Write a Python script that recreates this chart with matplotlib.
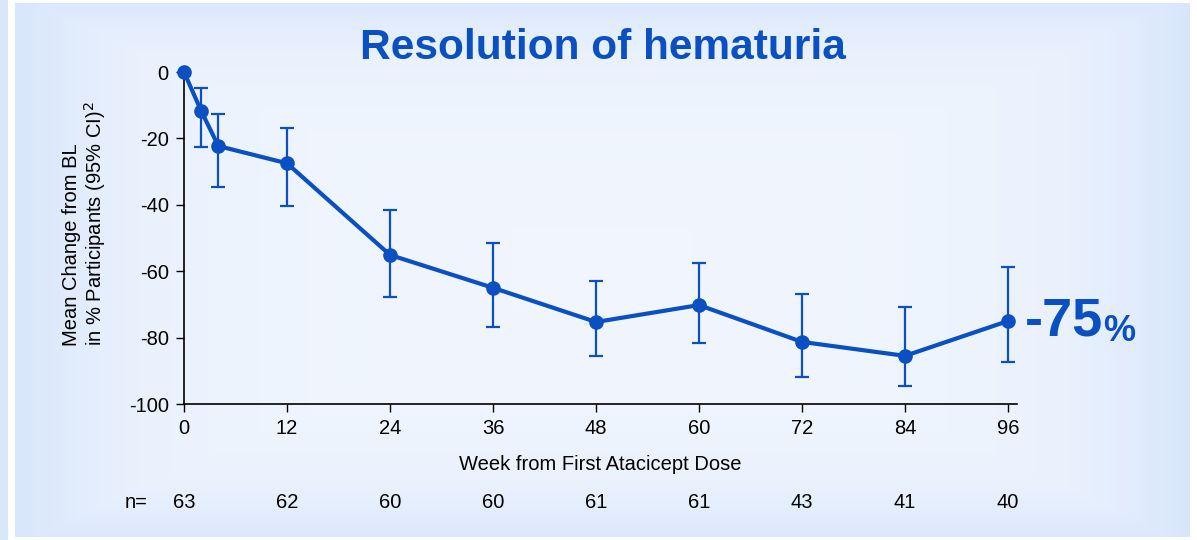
import numpy as np
import matplotlib
matplotlib.use("Agg")
from matplotlib import pyplot as plt
from matplotlib.colors import LinearSegmentedColormap

plt.rcParams['font.family'] = ['Liberation Sans', 'DejaVu Sans']
plt.rcParams['axes.unicode_minus'] = False

weeks = [0, 2, 4, 12, 24, 36, 48, 60, 72, 84, 96]
mean_change = [0, -11.7, -22.3, -27.5, -55.1, -65.0, -75.3, -70.2, -81.3, -85.5, -75.0]
ci_upper = [0, -4.9, -12.7, -17.0, -41.7, -51.5, -63.0, -57.5, -66.9, -70.9, -58.8]
ci_lower = [0, -22.7, -34.5, -40.3, -67.8, -76.8, -85.5, -81.6, -91.9, -94.6, -87.3]
tick_weeks = [0, 12, 24, 36, 48, 60, 72, 84, 96]
n_values = [63, 62, 60, 60, 61, 61, 43, 41, 40]

blue = '#0a50c2'
W, H = 1197, 540
fs = 14.5

fig = plt.figure(figsize=(W / 100, H / 100), dpi=100)
fig.patch.set_facecolor('white')

# left thin strip
strip = fig.add_axes([0, 0, 8 / W, 1])
strip.set_facecolor('#d9e7fb')
strip.set_xticks([])
strip.set_yticks([])
for s in strip.spines.values():
    s.set_visible(False)

# gradient panel background
bg = fig.add_axes([15 / W, 3 / H, (1190 - 15) / W, (537 - 3) / H])
gx = np.linspace(-1, 1, 400)
gy = np.linspace(-1, 1, 200)
X, Y = np.meshgrid(gx, gy)
r = np.clip(np.maximum(np.abs(X) ** 3, np.abs(Y) ** 3 * 0.9), 0, 1)
cmap = LinearSegmentedColormap.from_list('bg', ['#f1f6fe', '#e9f1fd', '#d8e6fb'])
bg.imshow(r, cmap=cmap, aspect='auto', extent=[0, 1, 0, 1], vmin=0, vmax=1)
bg.set_axis_off()

ax = fig.add_axes([184 / W, 1 - 404 / H, 832.6 / W, 332 / H])
ax.patch.set_alpha(0)

yerr = [np.array(mean_change) - np.array(ci_lower), np.array(ci_upper) - np.array(mean_change)]
ax.errorbar(weeks[1:], mean_change[1:], yerr=[yerr[0][1:], yerr[1][1:]], fmt='none',
            ecolor=blue, elinewidth=1.6, capsize=5, capthick=1.6, zorder=2, clip_on=False)
ax.plot(weeks, mean_change, color=blue, lw=3, marker='o', markersize=9.5, zorder=3, clip_on=False)

ax.set_xlim(0, 97)
ax.set_ylim(-100, 0)
ax.set_xticks(tick_weeks)
ax.set_yticks([0, -20, -40, -60, -80, -100])
ax.tick_params(labelsize=fs, length=6, width=1, colors='black', pad=5)
for side in ['top', 'right']:
    ax.spines[side].set_visible(False)
for side in ['left', 'bottom']:
    ax.spines[side].set_linewidth(1.2)

ax.set_xlabel('Week from First Atacicept Dose', fontsize=fs, labelpad=12)

# y label, lines aligned at the bottom like the original
fig.text(85 / W, 1 - 346 / H, 'Mean Change from BL\nin % Participants (95% CI)$^2$',
         rotation=90, ha='center', va='bottom', multialignment='left',
         fontsize=fs, linespacing=1.1)

# n row
n_y = 1 - 502 / H
for wk, n in zip(tick_weeks, n_values):
    xf = ax.transData.transform((wk, 0))[0] / W
    fig.text(xf, n_y, str(n), ha='center', va='center', fontsize=fs)
fig.text(125 / W, n_y, 'n=', ha='left', va='center', fontsize=fs)

fig.text(603 / W, 1 - 48 / H, 'Resolution of hematuria', ha='center', va='center',
         fontsize=30.5, fontweight='bold', color=blue)

t = fig.text(1025 / W, 1 - 322 / H, '-75', ha='left', va='center', fontsize=39,
             fontweight='bold', color=blue)
fig.canvas.draw()
bb = t.get_window_extent()
fig.text(bb.x1 / W, bb.y0 / H + 0.012, '%', ha='left', va='baseline', fontsize=26,
         fontweight='bold', color=blue)

fig.savefig('out.png', dpi=100, facecolor=fig.get_facecolor())
